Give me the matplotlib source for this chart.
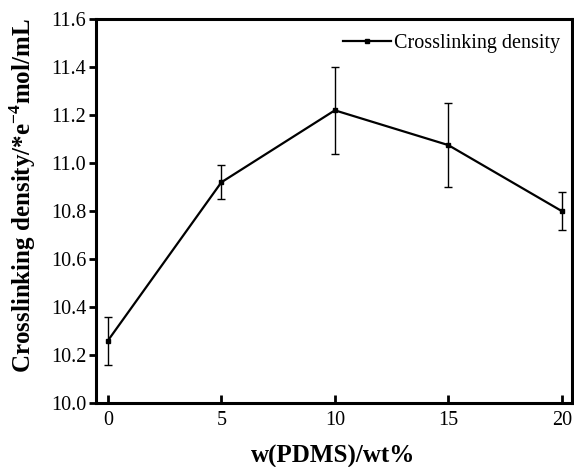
import matplotlib
matplotlib.use("Agg")
import matplotlib.pyplot as plt
from matplotlib.lines import Line2D

x_pdms = [0, 5, 10, 15, 20]
density = [10.26, 10.92, 11.22, 11.075, 10.80]
errors = [0.10, 0.07, 0.18, 0.175, 0.08]
x_ticks = [0, 5, 10, 15, 20]
y_ticks = [10.0, 10.2, 10.4, 10.6, 10.8, 11.0, 11.2, 11.4, 11.6]
series_label = 'Crosslinking density'

plt.rcParams['font.family'] = ['Liberation Serif', 'DejaVu Serif']
plt.rcParams['mathtext.fontset'] = 'custom'
plt.rcParams['mathtext.rm'] = 'Liberation Serif'
plt.rcParams['mathtext.bf'] = 'Liberation Serif:bold'

fig = plt.figure(figsize=(5.74, 4.67), dpi=100)
ax = fig.add_axes([0.167, 0.137, 0.8295, 0.822])

ax.errorbar(x_pdms, density, yerr=errors, color='black', linewidth=1.6,
            marker='s', markersize=3.5, elinewidth=1.0, capsize=3, capthick=1.0)

ax.set_xlim(-0.53, 20.45)
ax.set_ylim(10.0, 11.6)
ax.set_xticks(x_ticks)
ax.set_yticks(y_ticks)
ax.set_yticklabels([f"{v:.1f}" for v in y_ticks])

for s in ax.spines.values():
    s.set_linewidth(2.2)

ax.tick_params(axis='x', direction='in', length=6, width=2, labelsize=14.5, pad=6)
ax.tick_params(axis='y', direction='out', length=5, width=2, labelsize=14.5, pad=2)

ax.set_xlabel('w(PDMS)/wt%', fontsize=18, fontweight='bold')
ax.xaxis.set_label_coords(0.498, -0.109)
ax.set_ylabel(r'Crosslinking density/*e$^{\mathbf{-4}}$mol/mL', fontsize=18,
              fontweight='bold')
ax.yaxis.set_label_coords(-0.121, 0.539)

handle = Line2D([], [], color='black', linewidth=1.6, marker='s', markersize=3.5)
ax.legend([handle], [series_label], loc='upper right', frameon=False, fontsize=14.5,
          handlelength=2.4, handletextpad=0.15, borderaxespad=0, borderpad=0,
          bbox_to_anchor=(0.975, 0.961))

fig.savefig('out.png', dpi=100)
